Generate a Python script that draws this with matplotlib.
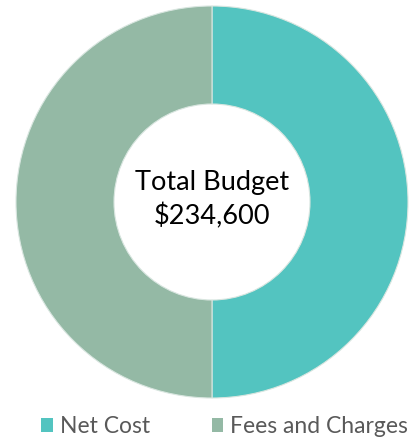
import matplotlib
matplotlib.use('Agg')
from matplotlib import pyplot as plt
from matplotlib.patches import Patch

labels = ['Net Cost', 'Fees and Charges']
values = [117300, 117300]
colors = ['#53C4C0', '#94B9A5']
center_lines = ['Total Budget', '$234,600']

plt.rcParams['font.family'] = ['Lato', 'DejaVu Sans']

fig = plt.figure(figsize=(4.18, 4.40), dpi=100)
ax = fig.add_axes([16 / 418, 42 / 440, 392 / 418, 392 / 440])

ax.pie(values, colors=colors, startangle=90, counterclock=False,
       wedgeprops=dict(width=0.5, edgecolor='#D9E6E0', linewidth=0.8))
ax.set_xlim(-1, 1)
ax.set_ylim(-1, 1)
ax.set_aspect('equal')
ax.axis('off')

ax.text(0, 0.10, center_lines[0], ha='center', va='center', fontsize=19.5, color='black')
ax.text(0, -0.075, center_lines[1], ha='center', va='center', fontsize=19.5, color='black')

handles = [Patch(facecolor=c, edgecolor='none') for c in colors]
fig.legend(handles, labels, loc='center', bbox_to_anchor=(0.537, 0.03),
           ncol=2, frameon=False, fontsize=16.5, labelcolor='#595959',
           handlelength=0.52, handleheight=0.52, handletextpad=0.3,
           columnspacing=2.7)

fig.savefig('out.png', dpi=100)
